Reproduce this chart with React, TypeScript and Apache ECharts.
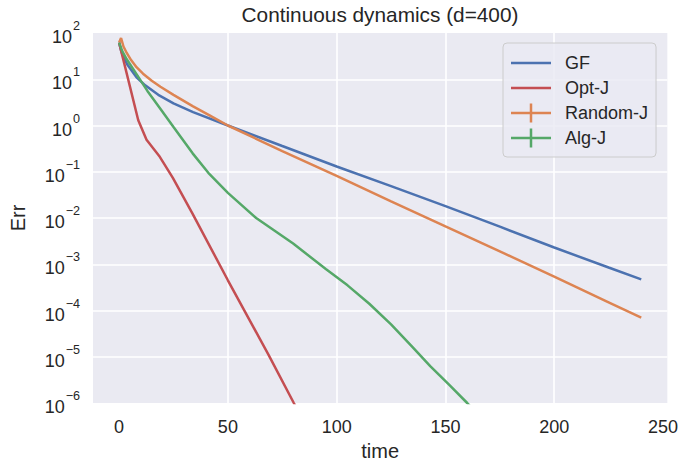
import React, { useEffect, useRef } from 'react';
import * as echarts from 'echarts';

const TITLE = 'Continuous dynamics (d=400)';
const X_LABEL = 'time';
const Y_LABEL = 'Err';
const SERIES_NAMES = ['GF', 'Opt-J', 'Random-J', 'Alg-J'];
const COLORS = ['#4c72b0', '#c44e52', '#dd8452', '#55a868'];
const X_TICKS = [0, 50, 100, 150, 200, 250];

const GF_T = [0, 1, 2, 4, 8, 12, 18, 25, 34, 50, 75, 100, 125, 150, 175, 200, 225, 240];
const GF_ERR = [62, 40, 30, 20, 11, 7.4, 4.6, 3.0, 1.95, 1.0, 0.36, 0.13, 0.049, 0.018, 0.0065, 0.0023, 0.00085, 0.00047];

const OPT_T = [0, 8.8, 12.6, 18.7, 24.7, 33.8, 50, 68.7, 80.3, 90];
const OPT_ERR = [62, 1.3, 0.49, 0.21, 0.074, 0.0123, 0.00045, 1.1e-5, 1.0e-6, 1.4e-7];

const RAND_T = [0, 0.9, 2, 3.5, 5.5, 8, 11, 15, 19, 25, 34, 42, 50, 75, 100, 125, 150, 175, 200, 225, 240];
const RAND_ERR = [62, 78, 51, 37, 26, 18.2, 13.2, 9.3, 6.9, 4.6, 2.6, 1.62, 1.0, 0.28, 0.081, 0.023, 0.0066, 0.0019, 0.00054, 0.00015, 0.00007];

const ALG_T = [0, 1.5, 3.5, 8, 13, 18.7, 25, 33.8, 41, 50, 63, 80, 95, 105, 115, 125, 135, 143, 152, 160, 166];
const ALG_ERR = [62, 40, 27, 12.9, 5.6, 2.4, 0.93, 0.25, 0.095, 0.035, 0.01, 0.0028, 0.00079, 0.00035, 0.00014, 0.00005, 1.6e-5, 6.3e-6, 2.4e-6, 1.0e-6, 5e-7];

const FONT = '"Liberation Sans", Arial, sans-serif';
const TEXT = '#262626';
const LINE_ICON = 'path://M0,8.25H40V10.75H0Z M0,0H0.01V0.01H0Z M39.99,18.99H40V19H39.99Z';
const PLUS_ICON = 'path://M0,8.25H40V10.75H0Z M18.75,0H21.25V19H18.75Z';

function pairs(t: number[], v: number[]) {
  return t.map((x, i) => [x, v[i]]);
}

export default function App() {
  const ref = useRef<HTMLDivElement>(null);
  useEffect(() => {
    const chart = echarts.init(ref.current!, null, { renderer: 'svg' });
    const data = [pairs(GF_T, GF_ERR), pairs(OPT_T, OPT_ERR), pairs(RAND_T, RAND_ERR), pairs(ALG_T, ALG_ERR)];
    chart.setOption({
      animation: false,
      backgroundColor: '#ffffff',
      textStyle: { fontFamily: FONT, color: TEXT },
      title: {
        text: TITLE,
        left: 380,
        top: 4,
        padding: 0,
        textAlign: 'center',
        textStyle: { fontSize: 20.8, fontWeight: 'normal', color: TEXT, fontFamily: FONT },
      },
      grid: {
        left: 91, right: 13, top: 33, bottom: 57,
        show: true, backgroundColor: '#eaeaf2', borderWidth: 0,
      },
      legend: {
        orient: 'vertical',
        left: 503,
        top: 43,
        padding: [9, 8, 8, 8],
        itemWidth: 40,
        itemHeight: 19,
        itemGap: 3,
        backgroundColor: 'rgba(234,234,242,0.8)',
        borderColor: '#cccccc',
        borderWidth: 1,
        borderRadius: 4,
        itemStyle: { borderWidth: 0 },
        textStyle: { fontSize: 18, color: TEXT, fontFamily: FONT, lineHeight: 22, padding: [0, 0, 0, 9] },
        data: [
          { name: SERIES_NAMES[0], icon: LINE_ICON },
          { name: SERIES_NAMES[1], icon: LINE_ICON },
          { name: SERIES_NAMES[2], icon: PLUS_ICON },
          { name: SERIES_NAMES[3], icon: PLUS_ICON },
        ],
      },
      xAxis: {
        type: 'value',
        min: -12,
        max: 252,
        axisLine: { show: false },
        axisTick: { show: false, customValues: X_TICKS },
        splitLine: { show: true, showMinLine: false, showMaxLine: false, lineStyle: { color: '#ffffff', width: 1.6 } },
        axisLabel: {
          fontSize: 18, color: TEXT, margin: 15, fontFamily: FONT,
          customValues: X_TICKS,
        },
        name: X_LABEL,
        nameLocation: 'middle',
        nameGap: 38,
        nameTextStyle: { fontSize: 20, color: TEXT, fontFamily: FONT },
      },
      yAxis: {
        type: 'log',
        logBase: 10,
        min: 1e-6,
        max: 100,
        splitNumber: 8,
        axisLine: { show: false },
        axisTick: { show: false },
        splitLine: { show: true, showMinLine: false, showMaxLine: false, lineStyle: { color: '#ffffff', width: 1.6 } },
        axisLabel: {
          margin: 13,
          formatter: (v: number) => {
            const e = Math.round(Math.log10(v));
            return `{b|10}{s|${e < 0 ? '\u2212' + -e : e}}`;
          },
          rich: {
            b: { fontSize: 18, lineHeight: 18, padding: [8, 0, 0, 0], color: TEXT, fontFamily: FONT },
            s: { fontSize: 12.6, lineHeight: 13, padding: [0, 0, 14, 1], color: TEXT, fontFamily: FONT },
          },
        },
        name: Y_LABEL,
        nameLocation: 'middle',
        nameGap: 65,
        nameRotate: 90,
        nameTextStyle: { fontSize: 20, color: TEXT, fontFamily: FONT },
      },
      series: SERIES_NAMES.map((name, i) => ({
        name,
        type: 'line',
        data: data[i],
        showSymbol: false,
        symbol: 'none',
        clip: true,
        color: COLORS[i],
        lineStyle: { width: 2.5, color: COLORS[i] },
        itemStyle: { color: COLORS[i] },
      })),
    });
    return () => chart.dispose();
  }, []);
  return <div ref={ref} style={{ position: 'fixed', left: 0, top: 0, width: 681, height: 466 }} />;
}
